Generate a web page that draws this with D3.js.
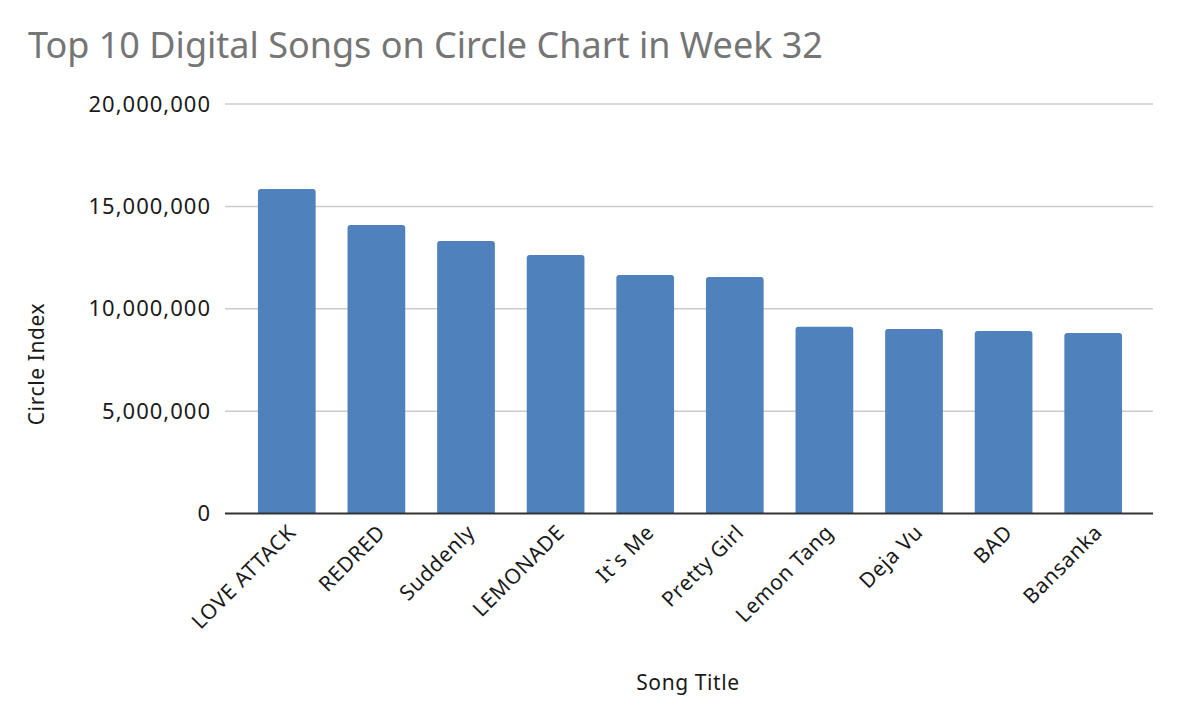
<!DOCTYPE html>
<html>
<head>
<meta charset="utf-8">
<script src="https://cdn.jsdelivr.net/npm/d3@7"></script>
<style>
  body { margin: 0; background: #fff; }
  svg text { font-family: "Noto Sans", sans-serif; }
</style>
</head>
<body>
<svg id="chart" width="1182" height="719"></svg>
<script>
/*
Chart data
*/
var songs = ["LOVE ATTACK", "REDRED", "Suddenly", "LEMONADE", "It`s Me", "Pretty Girl", "Lemon Tang", "Deja Vu", "BAD", "Bansanka"];
var circleIndex = [15850000, 14090000, 13310000, 12630000, 11650000, 11550000, 9120000, 9010000, 8910000, 8820000];
var yTicks = [0, 5000000, 10000000, 15000000, 20000000];

var chartTitle = "Top 10 Digital Songs on Circle Chart in Week 32";
var xTitle = "Song Title";
var yTitle = "Circle Index";

/*
Layout
*/
var plotLeft = 225, plotRight = 1153;
var svg = d3.select("#chart");

var x = d3.scaleBand()
          .domain(songs)
          .range([242, 1138])
          .paddingInner(0.356)
          .paddingOuter(0.178);

var y = d3.scaleLinear()
          .domain([0, 20000000])
          .range([513.5, 104]);

// title
svg.append("text")
   .attr("x", 28)
   .attr("y", 58)
   .style("font-size", "36px")
   .style("fill", "#757575")
   .text(chartTitle);

// gridlines
svg.append("g")
   .selectAll("line")
   .data(yTicks.filter(function(d){ return d > 0; }))
   .enter()
   .append("line")
   .attr("x1", plotLeft)
   .attr("x2", plotRight)
   .attr("y1", function(d){ return y(d); })
   .attr("y2", function(d){ return y(d); })
   .style("stroke", "#cccccc")
   .style("stroke-width", 1.5);

// y axis labels
var yAxis = d3.axisLeft(y)
              .tickValues(yTicks)
              .tickSize(0)
              .tickPadding(14)
              .tickFormat(d3.format(","));

var yg = svg.append("g")
            .attr("transform", "translate(" + plotLeft + ",0)")
            .call(yAxis);
yg.select(".domain").remove();
yg.selectAll("text")
  .style("font-family", "'Noto Sans', sans-serif")
  .style("font-size", "22px")
  .style("letter-spacing", "1px")
  .style("fill", "#1a1a1a");

// bars with slightly rounded tops
function barPath(d, i){
  var x0 = x(songs[i]), w = x.bandwidth();
  var top = y(d), base = y(0), r = 3;
  return "M" + x0 + "," + base +
         "V" + (top + r) +
         "Q" + x0 + "," + top + " " + (x0 + r) + "," + top +
         "H" + (x0 + w - r) +
         "Q" + (x0 + w) + "," + top + " " + (x0 + w) + "," + (top + r) +
         "V" + base + "Z";
}

svg.append("g")
   .selectAll("path")
   .data(circleIndex)
   .enter()
   .append("path")
   .attr("d", barPath)
   .style("fill", "#4f81bd");

// baseline
svg.append("line")
   .attr("x1", plotLeft)
   .attr("x2", plotRight)
   .attr("y1", y(0))
   .attr("y2", y(0))
   .style("stroke", "#333333")
   .style("stroke-width", 2);

// x axis labels, rotated
var xAxis = d3.axisBottom(x).tickSize(0).tickPadding(0);
var xg = svg.append("g")
            .attr("transform", "translate(0," + y(0) + ")")
            .call(xAxis);
xg.select(".domain").remove();
xg.selectAll("text")
  .attr("text-anchor", "end")
  .attr("dy", "0.35em")
  .attr("transform", "translate(5,15) rotate(-45)")
  .attr("y", 0)
  .style("font-family", "'Noto Sans', sans-serif")
  .style("font-size", "21px")
  .style("letter-spacing", "0.6px")
  .style("fill", "#1a1a1a");

// axis titles
svg.append("text")
   .attr("x", 688)
   .attr("y", 690)
   .attr("text-anchor", "middle")
   .style("font-size", "21px")
   .style("letter-spacing", "0.6px")
   .style("fill", "#1a1a1a")
   .text(xTitle);

svg.append("text")
   .attr("transform", "translate(44,364) rotate(-90)")
   .attr("text-anchor", "middle")
   .style("font-size", "21px")
   .style("letter-spacing", "0.6px")
   .style("fill", "#1a1a1a")
   .text(yTitle);
</script>
</body>
</html>
